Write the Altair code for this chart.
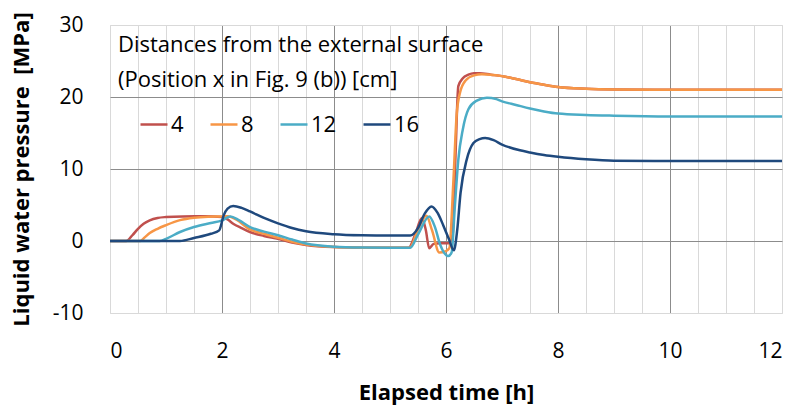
import altair as alt
import pandas as pd

# Series: distance from the external surface [cm]
t4 = [0, 0.29, 0.4, 0.5, 0.6, 0.71, 0.85, 1.0, 1.3, 1.7, 2.0, 2.1, 2.2, 2.35, 2.5, 2.75, 3.0, 3.25, 3.5, 4.0, 4.5, 5.0,
      5.33, 5.45, 5.57, 5.64, 5.70, 5.78, 5.9, 6.05, 6.12, 6.17, 6.22, 6.3, 6.4, 6.5, 6.6, 6.8, 7.0, 7.25, 7.5, 7.75,
      8.0, 8.5, 9.0, 10.0, 11.0, 12.0]
p4 = [0, 0, 0.8, 1.7, 2.4, 2.87, 3.2, 3.33, 3.42, 3.43, 3.35, 3.0, 2.4, 1.8, 1.25, 0.7, 0.3, -0.2, -0.55, -0.85, -0.93,
      -0.95, -0.95, 0.9, 3.2, 1.5, -1.0, -0.4, -0.3, -0.3, 1.0, 12, 21.5, 22.6, 23.1, 23.3, 23.3, 23.1, 22.9, 22.5,
      22.05, 21.7, 21.4, 21.15, 21.05, 21.0, 21.0, 21.0]

t8 = [0, 0.54, 0.62, 0.71, 0.85, 1.0, 1.25, 1.5, 1.75, 2.0, 2.1, 2.25, 2.5, 2.75, 3.0, 3.25, 3.5, 4.0, 4.5, 5.0, 5.35,
      5.5, 5.65, 5.75, 5.88, 6.0, 6.06, 6.13, 6.19, 6.25, 6.35, 6.5, 6.64, 6.8, 7.0, 7.25, 7.5, 7.75, 8.0, 8.5, 9.0,
      10.0, 11.0, 12.0]
p8 = [0, 0, 0.5, 1.1, 1.7, 2.2, 2.9, 3.24, 3.38, 3.42, 3.45, 3.0, 1.6, 1.0, 0.45, -0.1, -0.5, -0.85, -0.93, -0.95,
      -0.95, 1.6, 3.5, 1.5, -1.6, -1.4, -1.0, 8, 17.5, 20.6, 22.3, 23.0, 23.15, 23.1, 22.9, 22.5, 22.05, 21.7, 21.4,
      21.15, 21.05, 21.0, 21.0, 21.0]

t12 = [0, 0.89, 1.0, 1.25, 1.5, 1.8, 2.0, 2.15, 2.3, 2.5, 2.75, 3.0, 3.25, 3.5, 4.0, 4.5, 5.0, 5.36, 5.5, 5.7, 5.8,
       5.9, 6.04, 6.1, 6.16, 6.22, 6.3, 6.4, 6.55, 6.73, 6.9, 7.0, 7.25, 7.5, 7.75, 8.0, 8.5, 9.0, 10.0, 11.0, 12.0]
p12 = [0, 0, 0.3, 1.25, 1.94, 2.5, 2.87, 3.4, 2.9, 1.94, 1.3, 0.8, 0.2, -0.35, -0.8, -0.92, -0.95, -0.95, 0.9, 3.4,
       2.0, -0.6, -2.1, -1.6, 5, 11.3, 15.5, 18.3, 19.5, 19.9, 19.7, 19.4, 18.9, 18.4, 18.0, 17.7, 17.5, 17.4, 17.3,
       17.3, 17.3]

t16 = [0, 1.25, 1.5, 1.8, 1.95, 2.03, 2.1, 2.2, 2.35, 2.5, 2.75, 3.0, 3.25, 3.5, 4.0, 4.5, 5.0, 5.36, 5.5, 5.62, 5.74,
       5.85, 5.95, 6.05, 6.14, 6.2, 6.26, 6.37, 6.49, 6.6, 6.7, 6.85, 7.0, 7.32, 7.5, 7.75, 8.0, 8.5, 9.0, 10.0, 11.0,
       12.0]
p16 = [0, 0, 0.42, 1.0, 1.48, 3.56, 4.5, 4.86, 4.6, 4.1, 3.2, 2.45, 1.8, 1.35, 0.95, 0.8, 0.76, 0.76, 1.8, 3.8, 4.8,
       3.9, 2.2, 0.3, -1.3, 1.5, 6.7, 11.3, 13.6, 14.15, 14.3, 14.0, 13.4, 12.6, 12.3, 11.95, 11.7, 11.35, 11.15, 11.1,
       11.1, 11.1]

series_names = ["4", "8", "12", "16"]
series_colors = ["#C0504D", "#F79646", "#4BACC6", "#1F497D"]
x_grid_values = [i * 0.5 for i in range(25)]
y_tick_values = [-10, 0, 10, 20, 30]
legend_title = ["Distances from the external surface", "\u2005(Position x in Fig. 9 (b)) [cm]"]

rows = []
for name, ts, ps in zip(series_names, [t4, t8, t12, t16], [p4, p8, p12, p16]):
    for i, (t, p) in enumerate(zip(ts, ps)):
        rows.append({"Distance": name, "t": t, "p": p, "order": i})
df = pd.DataFrame(rows)

FONT = "Open Sans"

chart = alt.Chart(df).mark_line(strokeWidth=2.5, interpolate="monotone").encode(
    x=alt.X("t:Q",
            scale=alt.Scale(domain=[0, 12], nice=False, zero=False),
            axis=alt.Axis(
                title="Elapsed time [h]",
                values=x_grid_values,
                labelExpr="datum.value % 2 === 0 ? toString(datum.value) : ''",
                labelOverlap=False,
                labelFontSize=21,
                labelPadding=27,
                labelColor="#000000",
                labelFont=FONT,
                ticks=False,
                domain=False,
                grid=True,
                gridColor=alt.condition("datum.value % 2 === 0 && datum.value > 0 && datum.value < 12",
                                        alt.value("#8c8c8c"), alt.value("#d9d9d9")),
                gridOpacity=1,
                titleFontSize=22,
                titleFontWeight="bold",
                titleFont=FONT,
                titleColor="#000000",
                titlePadding=21,
            )),
    y=alt.Y("p:Q",
            scale=alt.Scale(domain=[-10, 30], nice=False, zero=False),
            axis=alt.Axis(
                title="Liquid water pressure\u00a0\u00a0[MPa]",
                values=y_tick_values,
                labelExpr="toString(datum.value)",
                labelFontSize=21,
                labelPadding=27,
                labelColor="#000000",
                labelFont=FONT,
                ticks=False,
                domain=False,
                grid=True,
                gridColor=alt.condition("datum.value > -10 && datum.value < 30",
                                        alt.value("#8c8c8c"), alt.value("#d9d9d9")),
                gridOpacity=1,
                titleFontSize=22,
                titleFontWeight="bold",
                titleFont=FONT,
                titleColor="#000000",
                titlePadding=19,
            )),
    color=alt.Color("Distance:N",
                    scale=alt.Scale(domain=series_names, range=series_colors),
                    sort=series_names,
                    legend=alt.Legend(
                        title=legend_title,
                        orient="none",
                        legendX=8,
                        legendY=10,
                        direction="horizontal",
                        titleFontSize=22,
                        titleFontWeight="normal",
                        titleFont=FONT,
                        titleColor="#000000",
                        titleLineHeight=34.5,
                        titlePadding=18,
                        titleLimit=700,
                        labelFontSize=22,
                        labelFont=FONT,
                        labelColor="#000000",
                        labelOffset=2,
                        symbolType="stroke",
                        symbolStrokeWidth=2.5,
                        symbolSize=729,
                        symbolOffset=21,
                        columnPadding=4,
                        padding=0,
                    )),
    order="order:Q",
).properties(
    width=672,
    height=288,
    autosize=alt.AutoSizeParams(type="none"),
    padding={"left": 110, "top": 25, "right": 16, "bottom": 97},
).configure_view(
    stroke="#d9d9d9",
    strokeWidth=1,
).configure(
    font=FONT,
    background="#ffffff",
)

chart.save("out.html", embed_options={"renderer": "svg", "actions": False})
